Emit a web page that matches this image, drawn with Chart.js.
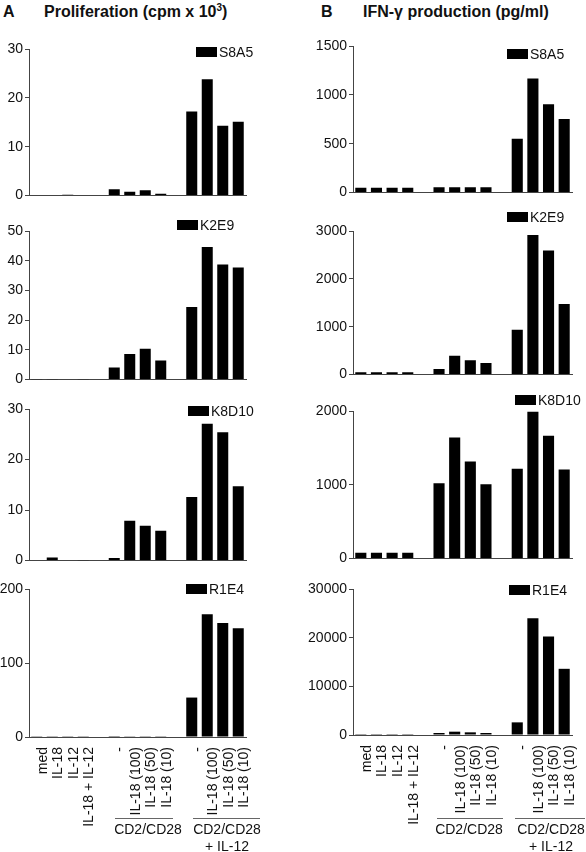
<!DOCTYPE html>
<html>
<head>
<meta charset="utf-8">
<script src="https://cdn.jsdelivr.net/npm/chart.js@4.4.1/dist/chart.umd.min.js"></script>
<style>
  body { margin: 0; background: #fff; }
  #fig { position: relative; width: 586px; height: 852px; overflow: hidden; font-family: "Liberation Sans", Arial, sans-serif; color: #111; }
  #fig canvas { position: absolute; }
  .title { position: absolute; font-weight: bold; font-size: 16px; line-height: 16px; white-space: nowrap; }
  .title sup { font-size: 10px; line-height: 0; }
  .grp { position: absolute; font-size: 14px; line-height: 14px; text-align: center; white-space: nowrap; }
  .bar-line { position: absolute; height: 0; border-top: 1px solid #666; }
</style>
</head>
<body>
<div id="fig">
  <div class="title" style="left:3px;top:4px">A</div>
  <div class="title" style="left:44px;top:4px">Proliferation (cpm x 10<sup>3</sup>)</div>
  <div class="title" style="left:321px;top:4px">B</div>
  <div class="title" style="left:363px;top:4px">IFN-γ production (pg/ml)</div>

  <canvas id="p1" width="290" height="181"></canvas>
  <canvas id="p2" width="290" height="183"></canvas>
  <canvas id="p3" width="290" height="186"></canvas>
  <canvas id="p4" width="290" height="267"></canvas>
  <canvas id="i1" width="290" height="181"></canvas>
  <canvas id="i2" width="290" height="178"></canvas>
  <canvas id="i3" width="290" height="182"></canvas>
  <canvas id="i4" width="290" height="265"></canvas>

  <div class="bar-line" style="left:115px;width:58px;top:818px"></div>
  <div class="bar-line" style="left:193px;width:67px;top:818px"></div>
  <div class="grp" style="left:108px;width:80px;top:822px">CD2/CD28</div>
  <div class="grp" style="left:187px;width:80px;top:822px">CD2/CD28</div>
  <div class="grp" style="left:187px;width:80px;top:839px">+ IL-12</div>

  <div class="bar-line" style="left:437px;width:66px;top:818px"></div>
  <div class="bar-line" style="left:515px;width:70px;top:818px"></div>
  <div class="grp" style="left:429px;width:80px;top:822px">CD2/CD28</div>
  <div class="grp" style="left:511px;width:80px;top:822px">CD2/CD28</div>
  <div class="grp" style="left:511px;width:80px;top:839px">+ IL-12</div>
</div>
<script>
// categorías (huecos vacíos entre grupos)
const categories = ['med', 'IL-18', 'IL-12', 'IL-18 + IL-12', '',
  '-', 'IL-18 (100)', 'IL-18 (50)', 'IL-18 (10)', '',
  '-', 'IL-18 (100)', 'IL-18 (50)', 'IL-18 (10)'];

const clones = ['S8A5', 'K2E9', 'K8D10', 'R1E4'];

// Proliferación (cpm x 10^3)
const prolifS8A5 = [0.1, 0.1, 0.15, 0.1, null, 1.3, 0.8, 1.1, 0.4, null, 17.2, 23.8, 14.3, 15.1];
const prolifK2E9 = [0.1, 0.1, 0.2, 0.1, null, 4.1, 8.6, 10.4, 6.4, null, 24.4, 44.6, 38.7, 37.7];
const prolifK8D10 = [0.1, 0.6, 0.1, 0.05, null, 0.5, 7.9, 6.9, 5.9, null, 12.6, 27.1, 25.4, 14.7];
const prolifR1E4 = [0.3, 0.3, 0.3, 0.3, null, 1.2, 1.0, 0.3, 0.3, null, 53.3, 166, 154, 147];
const prolifMax = [30, 50, 30, 200];
const prolifStep = [10, 10, 10, 100];

// IFN-gamma (pg/ml)
const ifnS8A5 = [50, 50, 50, 50, null, 55, 55, 55, 55, null, 552, 1168, 904, 752];
const ifnK2E9 = [50, 50, 50, 50, null, 118, 395, 298, 243, null, 935, 2917, 2592, 1476];
const ifnK8D10 = [80, 80, 80, 80, null, 1020, 1640, 1317, 1007, null, 1218, 1991, 1663, 1209];
const ifnR1E4 = [30, 30, 30, 30, null, 410, 683, 547, 410, null, 2597, 23990, 20230, 13600];
const ifnMax = [1500, 3000, 2000, 30000];
const ifnStep = [500, 1000, 1000, 10000];

const FONT = '"Liberation Sans", Arial, sans-serif';

// Leyenda: rectángulo negro + nombre del clon
const cornerLegend = {
  id: 'cornerLegend',
  afterDraw(chart, args, opts) {
    const ctx = chart.ctx;
    ctx.save();
    ctx.fillStyle = '#000';
    ctx.fillRect(opts.x, opts.y - 5, 21, 10);
    ctx.fillStyle = '#111';
    ctx.font = '14px ' + FONT;
    ctx.textBaseline = 'middle';
    ctx.fillText(chart.data.datasets[0].label, opts.x + 23, opts.y + 1);
    ctx.restore();
  }
};

// geometría de cada panel (coordenadas de página)
const cols = [
  { left: 0, axisX: 29, right: 246 },
  { left: 296, axisX: 353, right: 572 }
];
const PAD_TOP = 24;

function makePanel(id, col, plotTop, plotBottom, values, label, max, step, bottomRow, legendX, legendY) {
  const c = cols[col];
  const canvas = document.getElementById(id);
  const xH = bottomRow ? 95 : 0;
  const padBottom = bottomRow ? 0 : 10;
  canvas.height = PAD_TOP + (plotBottom - plotTop) + xH + padBottom;
  canvas.width = 290;
  const canvasTop = plotTop - PAD_TOP;
  canvas.style.left = c.left + 'px';
  canvas.style.top = canvasTop + 'px';

  new Chart(canvas.getContext('2d'), {
    type: 'bar',
    data: {
      labels: categories,
      datasets: [{ label, data: values, backgroundColor: '#000', barPercentage: 0.71, categoryPercentage: 1 }]
    },
    options: {
      responsive: false,
      animation: false,
      devicePixelRatio: 1,
      layout: { padding: { top: PAD_TOP, right: 290 - (c.right - c.left), bottom: padBottom, left: 0 } },
      plugins: {
        legend: { display: false },
        tooltip: { enabled: false },
        cornerLegend: { x: legendX - c.left, y: legendY - canvasTop }
      },
      scales: {
        x: {
          grid: { display: false },
          border: { display: true, color: '#444', width: 1 },
          ticks: {
            display: bottomRow, autoSkip: false, minRotation: 90, maxRotation: 90,
            color: '#111', font: { family: FONT, size: 14 }, padding: 2, labelOffset: 6
          },
          afterFit: s => { s.height = xH; }
        },
        y: {
          min: 0, max,
          grid: { drawOnChartArea: false, color: '#444', tickLength: 4 },
          border: { display: true, color: '#444', width: 1 },
          ticks: {
            stepSize: step, color: '#111', font: { family: FONT, size: 14 }, padding: 2,
            callback: v => String(v)
          },
          afterFit: s => { s.width = c.axisX - c.left; }
        }
      }
    },
    plugins: [cornerLegend]
  });
}

makePanel('p1', 0, 49, 196, prolifS8A5, clones[0], prolifMax[0], prolifStep[0], false, 196, 52);
makePanel('p2', 0, 231, 380, prolifK2E9, clones[1], prolifMax[1], prolifStep[1], false, 177, 225);
makePanel('p3', 0, 409, 561, prolifK8D10, clones[2], prolifMax[2], prolifStep[2], false, 188, 411);
makePanel('p4', 0, 589, 737, prolifR1E4, clones[3], prolifMax[3], prolifStep[3], true, 186, 589);

makePanel('i1', 1, 46, 193, ifnS8A5, clones[0], ifnMax[0], ifnStep[0], false, 507, 54);
makePanel('i2', 1, 231, 375, ifnK2E9, clones[1], ifnMax[1], ifnStep[1], false, 507, 217);
makePanel('i3', 1, 411, 559, ifnK8D10, clones[2], ifnMax[2], ifnStep[2], false, 515, 400);
makePanel('i4', 1, 589, 735, ifnR1E4, clones[3], ifnMax[3], ifnStep[3], true, 509, 590);
</script>
</body>
</html>
